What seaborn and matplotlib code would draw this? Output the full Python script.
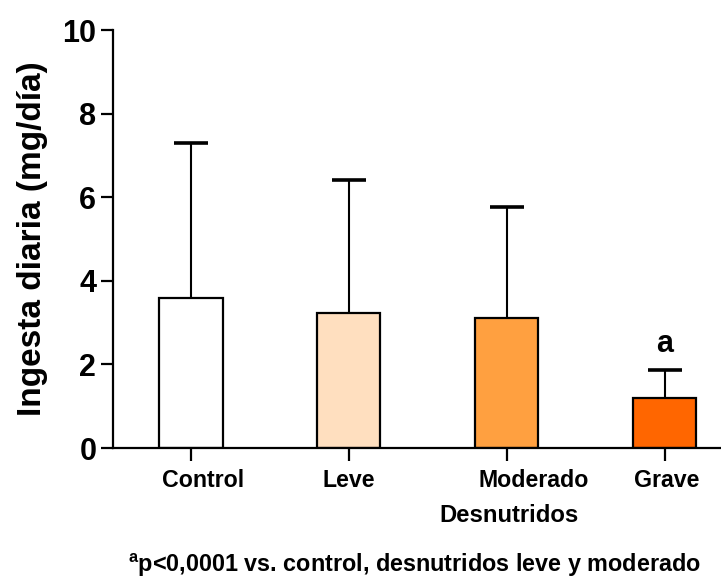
import matplotlib
matplotlib.use("Agg")
import matplotlib.pyplot as plt
import matplotlib.transforms as mtransforms
import seaborn as sns
import pandas as pd
import numpy as np

# Daily intake by nutritional status
groups = ["Control", "Leve", "Moderado", "Grave"]
mean_intake = [3.58, 3.22, 3.10, 1.19]
sd_intake = [3.72, 3.19, 2.66, 0.68]
bar_colors = ["#FFFFFF", "#FFDFBF", "#FFA040", "#FF6600"]
sig_labels = ["", "", "", "a"]
y_ticks = [0, 2, 4, 6, 8, 10]

sns.set_theme(style="ticks")
plt.rcParams["font.family"] = ["Liberation Sans", "DejaVu Sans"]
plt.rcParams["text.color"] = "black"
plt.rcParams["axes.labelcolor"] = "black"
plt.rcParams["xtick.color"] = "black"
plt.rcParams["ytick.color"] = "black"
plt.rcParams["mathtext.fontset"] = "custom"
plt.rcParams["mathtext.rm"] = "Liberation Sans:bold"
plt.rcParams["mathtext.it"] = "Liberation Sans:bold"
plt.rcParams["mathtext.bf"] = "Liberation Sans:bold"

df = pd.DataFrame({"grupo": groups, "ingesta": mean_intake})

fig = plt.figure(figsize=(7.21, 5.79), dpi=100)
ax = fig.add_axes([113 / 721, 1 - 448 / 579, (720 - 113) / 721, (448 - 30) / 579])

sns.barplot(data=df, x="grupo", y="ingesta", hue="grupo", palette=bar_colors,
            saturation=1, legend=False, width=0.4, edgecolor="black",
            linewidth=1.6, errorbar=None, ax=ax, zorder=2)

# upper-only SD whiskers
xpos = np.arange(len(groups))
_, caps, _ = ax.errorbar(xpos, mean_intake, yerr=[np.zeros(len(groups)), sd_intake],
                         fmt="none", ecolor="black", elinewidth=1.5, capsize=12,
                         capthick=2.6, zorder=1)
caps[0].set_visible(False)  # no cap on the lower side

# significance marks
for x, m, s, lab in zip(xpos, mean_intake, sd_intake, sig_labels):
    if lab:
        ax.text(x, m + s + 0.25, lab, ha="center", va="bottom",
                fontsize=22, fontweight="bold")

ax.set_xlim(-0.494, 3.35)
ax.set_ylim(0, 10)
ax.set_yticks(y_ticks)
ax.set_yticklabels([str(t) for t in y_ticks], fontsize=22, fontweight="bold")
ax.tick_params(axis="both", direction="out", length=9, width=1.6, color="black")
ax.tick_params(axis="y", pad=3)
ax.tick_params(axis="x", pad=6, labelsize=16.7)
for lbl in ax.get_xticklabels():
    lbl.set_fontweight("bold")

# nudge category labels the way they sit under each bar
label_shift_px = [12, 0, 27, 2]
for lbl, dx in zip(ax.get_xticklabels(), label_shift_px):
    lbl.set_transform(lbl.get_transform() +
                      mtransforms.ScaledTranslation(dx / 100, 0, fig.dpi_scale_trans))

for side in ["top", "right"]:
    ax.spines[side].set_visible(False)
for side in ["left", "bottom"]:
    ax.spines[side].set_linewidth(1.6)
    ax.spines[side].set_color("black")

ax.set_ylabel("Ingesta diaria (mg/día)", fontsize=24, fontweight="bold", labelpad=10)
ax.set_xlabel("Desnutridos", fontsize=17.2, fontweight="bold")
ax.xaxis.set_label_coords((509 - 113) / 607, (448 - 515) / 418)
ax.xaxis.label.set_va("center")

fig.text(414 / 721, 1 - 565 / 579,
         r"$^{\mathbf{a}}$p<0,0001 vs. control, desnutridos leve y moderado",
         ha="center", va="center", fontsize=16.8, fontweight="bold")

fig.savefig("out.png", dpi=100)
